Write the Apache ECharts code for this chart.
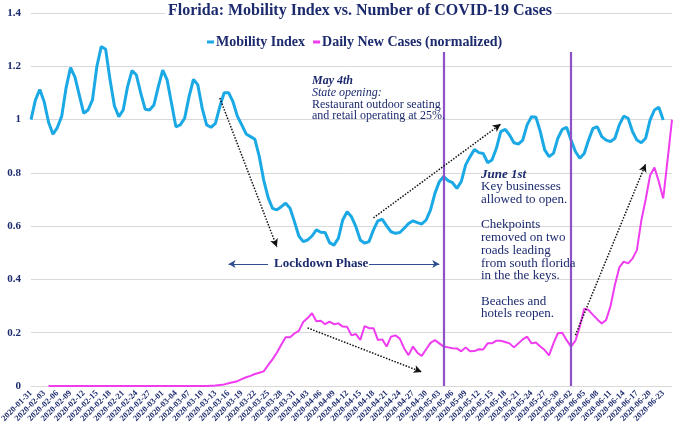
<!DOCTYPE html>
<html>
<head>
<meta charset="utf-8">
<script src="https://cdn.jsdelivr.net/npm/echarts@6/dist/echarts.min.js"></script>
<style>html,body{margin:0;padding:0;background:#fff}#c{width:676px;height:426px}</style>
</head>
<body>
<div id="c"></div>
<script>
// ---- data ----
const startDate = '2020-01-31';
const dayCount = 147; // 2020-01-31 .. 2020-06-25
const yTicks = [0, 0.2, 0.4, 0.6, 0.8, 1, 1.2, 1.4];
const mobilityIndex = [
 1.0,1.073,1.113,1.067,0.99,0.945,0.97,1.013,1.12,1.195,
 1.16,1.092,1.024,1.036,1.074,1.199,1.274,1.264,1.149,1.051,
 1.011,1.036,1.124,1.184,1.167,1.099,1.039,1.036,1.055,1.124,
 1.186,1.149,1.061,0.973,0.98,1.005,1.086,1.151,1.13,1.042,
 0.98,0.971,0.986,1.048,1.101,1.101,1.067,1.013,0.98,0.946,
 0.936,0.926,0.861,0.773,0.708,0.667,0.661,0.673,0.686,0.667,
 0.617,0.563,0.542,0.548,0.563,0.586,0.577,0.576,0.538,0.529,
 0.554,0.623,0.654,0.635,0.598,0.548,0.536,0.542,0.586,0.62,
 0.626,0.601,0.579,0.573,0.576,0.592,0.61,0.62,0.613,0.608,
 0.623,0.661,0.723,0.767,0.786,0.771,0.763,0.742,0.767,0.83,
 0.861,0.888,0.876,0.873,0.838,0.848,0.892,0.955,0.963,0.942,
 0.913,0.908,0.923,0.98,1.011,1.009,0.955,0.886,0.861,0.873,
 0.93,0.963,0.971,0.923,0.88,0.855,0.873,0.923,0.967,0.973,
 0.936,0.923,0.917,0.93,0.98,1.013,1.005,0.955,0.923,0.913,
 0.93,0.998,1.036,1.046,0.998
];
const dailyNewCases = [
 null,null,null,null,0,0,0,0,0,0,
 0,0,0,0,0,0,0,0,0,0,
 0,0,0,0,0,0,0,0,0,0,
 0,0,0,0,0,0,0,0,0,0,
 0,0.001,0.002,0.004,0.006,0.01,0.014,0.018,0.026,0.033,
 0.038,0.045,0.05,0.055,0.078,0.1,0.125,0.155,0.183,0.183,
 0.197,0.207,0.24,0.255,0.273,0.243,0.245,0.232,0.242,0.232,
 0.235,0.223,0.222,0.19,0.195,0.173,0.225,0.217,0.217,0.173,
 0.175,0.148,0.185,0.19,0.178,0.141,0.116,0.148,0.125,0.113,
 0.138,0.162,0.172,0.16,0.148,0.145,0.142,0.141,0.13,0.145,
 0.13,0.131,0.138,0.137,0.16,0.16,0.17,0.17,0.165,0.16,
 0.145,0.16,0.175,0.185,0.16,0.163,0.148,0.135,0.115,0.16,
 0.198,0.2,0.172,0.148,0.17,0.223,0.29,0.285,0.267,0.25,
 0.235,0.248,0.3,0.38,0.445,0.467,0.46,0.478,0.51,0.62,
 0.7,0.79,0.82,0.767,0.704,0.85,1.0
];
const seriesNames = ['Mobility Index', 'Daily New Cases (normalized)'];
const eventDates = ['2020-05-04', '2020-06-02'];

// ---- build categories ----
function fmt(d){const m=String(d.getUTCMonth()+1).padStart(2,'0');const dd=String(d.getUTCDate()).padStart(2,'0');return d.getUTCFullYear()+'-'+m+'-'+dd;}
const categories = [];
{const d0 = new Date(startDate+'T00:00:00Z'); for(let i=0;i<dayCount;i++){categories.push(fmt(new Date(d0.getTime()+i*86400000)));}}

const NAVY = '#1c2a6e';
const SERIF = '"Liberation Serif", "Times New Roman", serif';

function txt(t, x, y, size, weight, style){
  return {type:'text', x:x, y:y, silent:true, z:100,
    style:{text:t, x:0, y:0, fill:NAVY, font:(style||'normal')+' '+(weight||'normal')+' '+size+'px '+SERIF, verticalAlign:'middle', align:'left'}};
}

const chart = echarts.init(document.getElementById('c'), null, {renderer:'canvas'});
chart.setOption({
  animation:false,
  backgroundColor:'#fff',
  title:{text:'Florida: Mobility Index vs. Number of COVID-19 Cases', left:165, top:1,
    backgroundColor:'#fff', padding:[1,3],
    textStyle:{fontFamily:SERIF, fontSize:16, fontWeight:'bold', color:NAVY, lineHeight:18}},
  legend:{data:seriesNames, left:202, top:30, icon:'rect', itemWidth:7, itemHeight:3, itemGap:8,
    textStyle:{fontFamily:SERIF, fontSize:14, fontWeight:'bold', color:NAVY, padding:[0,0,0,-3]}},
  grid:{left:31, right:4, top:13, bottom:40, containLabel:false, outerBoundsMode:'none'},
  xAxis:{type:'category', data:categories, boundaryGap:false,
    axisLine:{show:true, lineStyle:{color:'#d9d9d9'}}, axisTick:{show:false},
    axisLabel:{interval:2, rotate:45, margin:6, fontSize:8.5, fontWeight:'bold', fontFamily:SERIF, color:NAVY}},
  yAxis:{type:'value', min:yTicks[0], max:yTicks[yTicks.length-1], interval:0.2,
    axisLine:{show:false}, axisTick:{show:false},
    splitLine:{lineStyle:{color:'#d9d9d9', width:1}},
    axisLabel:{margin:10, fontSize:11, fontWeight:'bold', fontFamily:SERIF, color:NAVY}},
  series:[
    {name:seriesNames[1], type:'line', data:dailyNewCases, showSymbol:false, z:3,
      lineStyle:{color:'#f03cf0', width:2}, itemStyle:{color:'#f03cf0'}},
    {name:seriesNames[0], type:'line', data:mobilityIndex, showSymbol:false, z:4,
      lineStyle:{color:'#1ba9e5', width:3}, itemStyle:{color:'#1ba9e5'}},
    {name:'events', type:'line', data:[], z:5,
      markLine:{silent:true, symbol:['none','none'], label:{show:false},
        lineStyle:{color:'#8d52c8', width:2.2, type:'solid'},
        data: eventDates.map(d => [{coord:[d, 0]}, {coord:[d, 1.254]}])}},
    {name:'trendArrows', type:'line', data:[], z:6,
      markLine:{silent:true, symbol:['none','arrow'], symbolSize:[6,8], label:{show:false},
        lineStyle:{color:'#111', width:1.5, type:'dotted'},
        data:[
          [{coord:[42.8, 1.081]}, {coord:[56.0, 0.522]}],
          [{coord:[63.1, 0.218]}, {coord:[89.3, 0.0526]}],
          [{coord:[77.7, 0.631]}, {coord:[107.3, 0.983]}],
          [{coord:[123.5, 0.191]}, {coord:[140.1, 0.833]}]
        ]}},
    {name:'lockdown', type:'line', data:[], z:6,
      markLine:{silent:true, symbol:['none','arrow'], symbolSize:[6,7], label:{show:false},
        lineStyle:{color:'#2f4f8f', width:1.2, type:'solid'},
        data:[
          [{coord:[53.8, 0.4575]}, {coord:[44.6, 0.4575]}],
          [{coord:[77.2, 0.4575]}, {coord:[92.5, 0.4575]}]
        ]}}
  ],
  graphic:[
    txt('May 4th', 312, 81, 12, 'bold', 'italic'),
    txt('State opening:', 312, 93, 12, 'normal', 'italic'),
    txt('Restaurant outdoor seating', 312, 104.5, 12),
    txt('and retail operating at 25%.', 312, 115.5, 12),
    txt('June 1st', 481, 174.3, 13, 'bold', 'italic'),
    txt('Key businesses', 481, 186.8, 13),
    txt('allowed to open.', 481, 199.3, 13),
    txt('Chekpoints', 481, 225, 13),
    txt('removed on two', 481, 238, 13),
    txt('roads leading', 481, 250.5, 13),
    txt('from south florida', 481, 263.2, 13),
    txt('in the the keys.', 481, 276, 13),
    txt('Beaches and', 481, 301.5, 13),
    txt('hotels reopen.', 481, 313.8, 13),
    txt('Lockdown Phase', 274, 263.5, 13, 'bold')
  ]
});
</script>
</body>
</html>
